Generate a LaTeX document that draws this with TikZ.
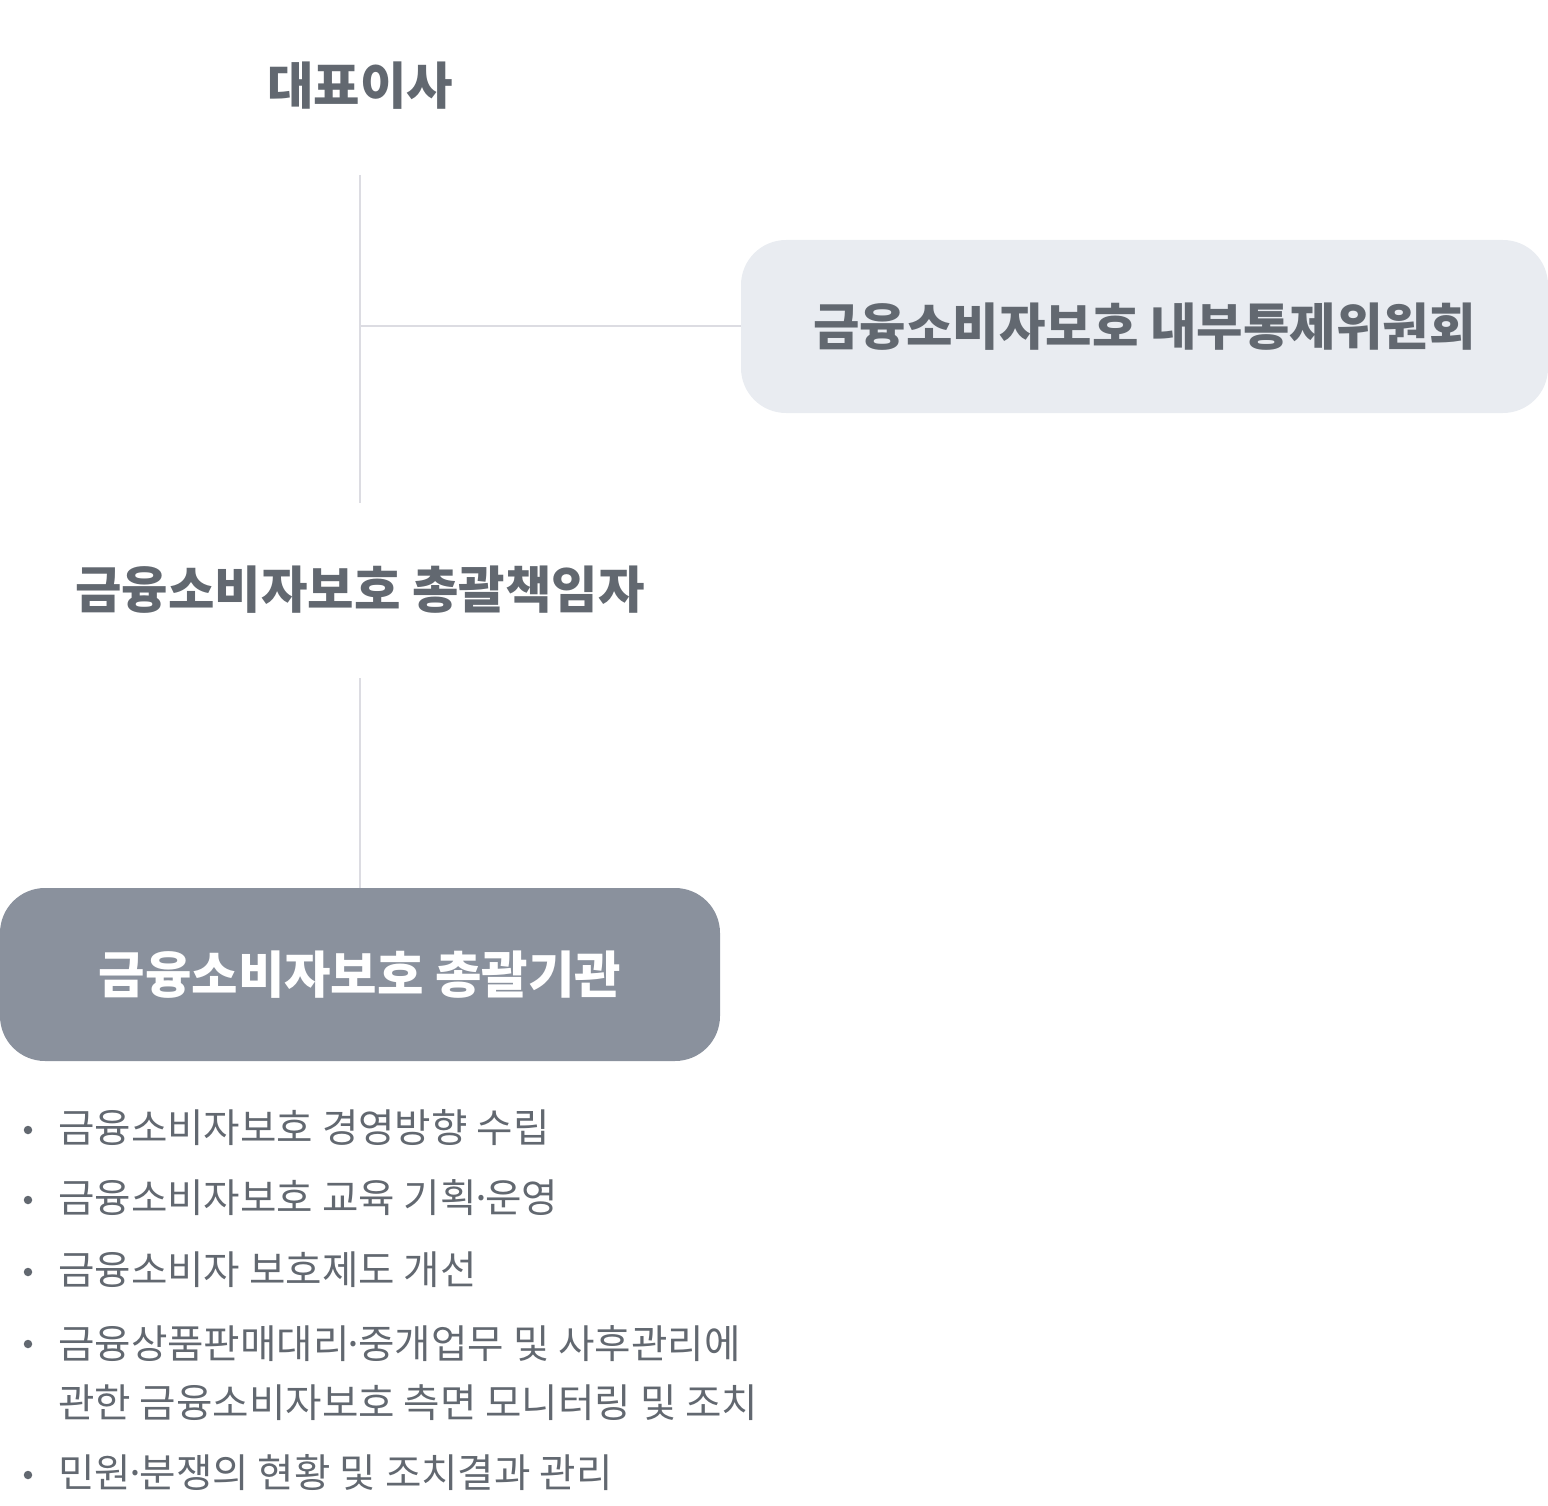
\documentclass[tikz,border=0pt]{standalone}
\usepackage{fontspec}
\setmainfont{Noto Sans CJK KR}
\definecolor{txt}{HTML}{626870}
\definecolor{lightbox}{HTML}{E9ECF1}
\definecolor{darkbox}{HTML}{8A919D}
\definecolor{linec}{HTML}{DCDCE2}
\newcommand{\middot}{\kern-0.17em·\kern-0.17em}
\begin{document}
\begin{tikzpicture}[x=1pt,y=-1pt,
  title/.style={font=\fontsize{50.5}{58}\selectfont\bfseries, text=txt, inner sep=0pt},
  box/.style={rounded corners=45pt, minimum height=173pt, inner sep=0pt},
  conn/.style={draw=linec, line width=2pt},
  item/.style={font=\fontsize{39.6}{59}\selectfont, text=txt, anchor=west, inner sep=0pt, align=left},
  dot/.style={circle, fill=txt, minimum size=8.5pt, inner sep=0pt}]
\useasboundingbox (0,0) rectangle (1548,1506);
% titles
\node[title] (ceo) at (360,86) {대표이사};
\node[box, fill=lightbox, minimum width=807pt] (comm) at (1144.5,326.5) {};
\node[title] at (comm.center) {금융소비자보호 내부통제위원회};
\node[title] (cco) at (360,590) {금융소비자보호 총괄책임자};
\node[box, fill=darkbox, minimum width=720pt] (dept) at (360,974.5) {};
\node[title, text=white] at (dept.center) {금융소비자보호 총괄기관};
% connectors
\coordinate (v1top) at (360,175);
\coordinate (v1bot) at (360,503);
\coordinate (junc) at (360,326.5);
\coordinate (v2top) at (360,678);
\draw[conn] (v1top) -- (v1bot);
\draw[conn] (junc) -- (comm.west);
\draw[conn] (v2top) -- (dept.north);
% list
\node[dot] (d1) at (28,1130) {};
\node[item] (i1) at (58,1128) {금융소비자보호 경영방향 수립};
\node[dot] (d2) at (28,1200) {};
\node[item] (i2) at (58,1198) {금융소비자보호 교육 기획\middot 운영};
\node[dot] (d3) at (28,1272) {};
\node[item] (i3) at (58,1270) {금융소비자 보호제도 개선};
\node[dot] (d4) at (28,1344) {};
\node[item] (i4) at (58,1373) {금융상품판매대리\middot 중개업무 및 사후관리에\\관한 금융소비자보호 측면 모니터링 및 조치};
\node[dot] (d5) at (28,1475) {};
\node[item] (i5) at (58,1473) {민원\middot 분쟁의 현황 및 조치결과 관리};
\end{tikzpicture}
\end{document}
